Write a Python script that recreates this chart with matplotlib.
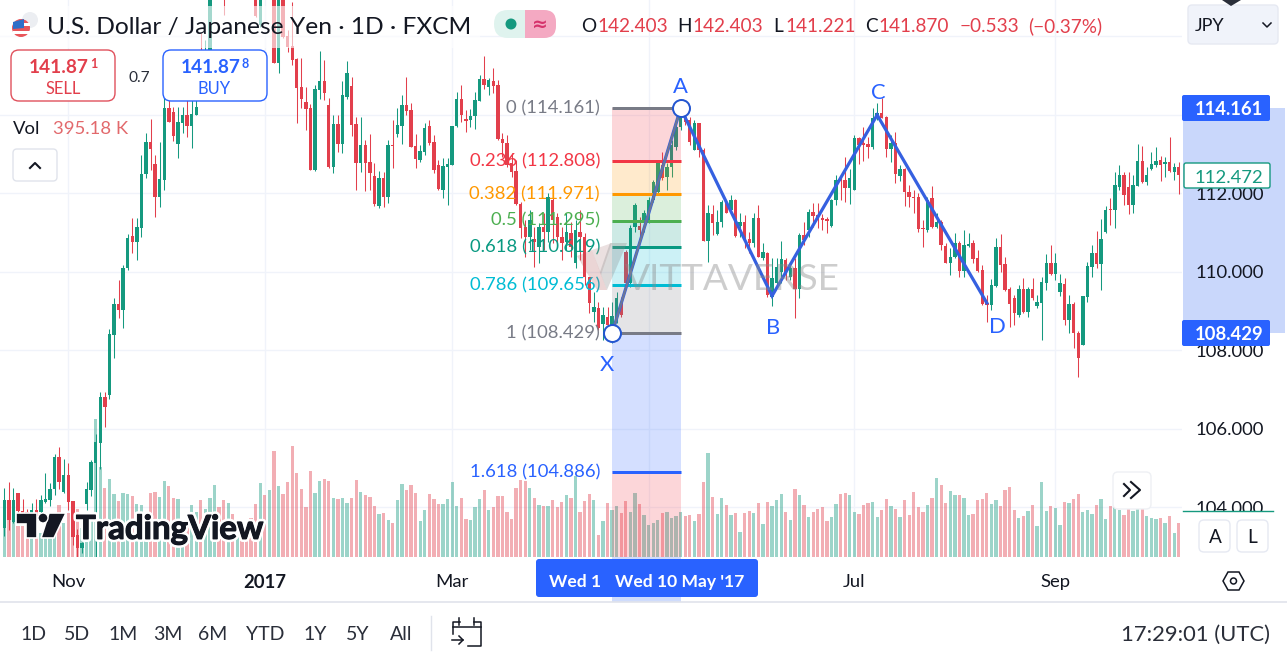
#!/usr/bin/env python3
import numpy as np
import matplotlib as mpl
mpl.use("Agg")
import matplotlib.pyplot as plt
from matplotlib.patches import FancyBboxPatch, Rectangle, Circle, Polygon
from matplotlib import patheffects

plt.rcParams['font.family'] = ['Lato', 'Noto Sans', 'DejaVu Sans']

opens = [
    103.47, 104.18, 103.62, 104.36, 103.90, 103.87, 103.72, 103.93, 103.87, 104.13,
    104.18, 104.46, 105.28, 104.38, 104.82, 104.15, 103.29, 102.96, 104.08, 104.43,
    105.12, 105.63, 106.80, 106.86, 108.38, 109.17, 109.02, 110.09, 110.91, 110.75,
    111.11, 112.49, 113.30, 112.74, 111.90, 112.33, 114.17, 114.07, 113.25, 113.79,
    113.99, 113.71, 113.99, 115.39, 114.75, 115.26, 117.30, 118.07, 117.68, 117.05,
    118.19, 117.56, 118.70, 118.19, 117.68, 117.30, 116.28, 117.56, 117.05, 117.68,
    115.31, 117.17, 116.00, 115.75, 115.42, 114.70, 114.32, 114.17, 112.59, 114.63,
    114.86, 114.24, 112.67, 113.76, 113.25, 114.45, 114.73, 113.76, 112.77, 113.23,
    112.79, 112.44, 111.67, 112.38, 111.90, 113.23, 113.51, 113.71, 114.24, 114.12,
    113.20, 112.84, 113.05, 113.71, 113.30, 112.72, 112.08, 112.67, 112.72, 113.71,
    114.40, 113.89, 113.86, 113.96, 114.35, 114.91, 114.70, 114.86, 114.75, 113.38,
    113.28, 112.77, 112.56, 111.72, 111.14, 110.88, 110.83, 110.63, 111.14, 111.01,
    111.82, 111.39, 110.88, 110.75, 110.98, 110.22, 111.01, 110.88, 109.86, 108.97,
    109.07, 108.66, 108.84, 108.43, 108.72, 109.23, 110.50, 109.71, 111.14, 111.16,
    111.24, 111.24, 111.82, 112.03, 112.72, 112.41, 112.67, 113.17, 113.68, 113.94,
    113.86, 113.10, 113.79, 113.10, 110.78, 111.47, 110.96, 111.26, 111.75, 111.57,
    111.82, 111.16, 111.26, 110.83, 110.73, 111.37, 110.35, 110.47, 109.35, 109.71,
    109.99, 110.30, 109.86, 110.09, 109.56, 110.93, 111.06, 111.52, 111.44, 111.37,
    111.34, 111.16, 111.82, 112.33, 112.33, 112.13, 112.08, 113.40, 113.28, 113.25,
    113.17, 113.91, 114.04, 113.94, 113.12, 113.28, 112.44, 112.61, 112.03, 111.90,
    111.90, 111.11, 111.06, 111.87, 111.14, 111.26, 110.65, 110.22, 110.37, 110.73,
    110.01, 110.65, 110.73, 110.35, 110.04, 109.20, 109.15, 109.63, 110.63, 110.19,
    109.56, 109.33, 108.89, 109.56, 108.97, 109.56, 109.12, 109.20, 109.71, 110.22,
    109.94, 109.48, 109.68, 108.77, 109.17, 108.43, 108.13, 109.35, 110.12, 110.47,
    110.19, 111.01, 111.59, 111.57, 112.15, 112.46, 112.15, 111.70, 112.18, 112.82,
    112.28, 112.61, 112.72, 112.84, 112.74, 112.79, 112.54, 112.66,
]
highs = [
    104.49, 104.64, 104.49, 104.36, 104.21, 103.95, 104.10, 104.21, 104.31, 104.87,
    104.61, 105.35, 105.53, 105.22, 105.12, 104.15, 103.44, 103.11, 104.64, 105.20,
    105.87, 106.93, 106.93, 108.54, 109.33, 109.79, 110.17, 110.96, 111.37, 111.37,
    112.97, 113.53, 113.89, 112.97, 113.30, 114.50, 114.37, 114.19, 114.19, 114.19,
    114.37, 114.37, 115.34, 116.08, 115.90, 117.48, 118.32, 118.45, 117.94, 118.32,
    118.58, 118.96, 119.01, 118.45, 117.94, 117.43, 117.68, 117.81, 117.94, 117.94,
    117.30, 117.30, 116.16, 116.87, 115.44, 115.44, 114.70, 114.27, 114.75, 115.62,
    115.39, 114.42, 113.99, 113.99, 114.86, 115.37, 114.96, 113.94, 113.94, 113.35,
    113.51, 112.77, 112.56, 112.54, 113.35, 113.86, 114.17, 114.50, 114.96, 114.30,
    113.51, 113.23, 113.79, 113.86, 113.48, 112.84, 112.89, 112.89, 113.71, 114.58,
    114.75, 114.12, 114.14, 114.58, 115.01, 115.49, 114.93, 115.19, 114.88, 113.53,
    113.48, 113.02, 112.84, 111.77, 111.31, 111.57, 111.14, 111.24, 111.49, 112.00,
    112.16, 111.49, 111.14, 111.49, 111.26, 111.31, 111.57, 110.98, 109.86, 109.48,
    109.23, 109.10, 109.10, 109.23, 109.48, 109.35, 110.55, 111.19, 111.75, 111.39,
    111.57, 111.90, 112.33, 112.77, 113.05, 112.77, 113.35, 113.91, 114.17, 113.99,
    113.94, 113.86, 113.79, 113.15, 111.70, 111.70, 111.57, 111.82, 111.82, 111.95,
    111.85, 111.49, 111.44, 111.01, 111.49, 111.70, 110.73, 110.50, 110.35, 110.35,
    110.78, 110.35, 110.17, 110.35, 110.98, 111.26, 111.59, 111.75, 111.75, 111.47,
    111.39, 111.85, 112.46, 112.41, 112.92, 112.61, 113.48, 113.43, 113.68, 113.43,
    114.17, 114.30, 114.42, 113.96, 113.48, 113.56, 112.72, 112.64, 112.21, 112.08,
    112.00, 111.31, 111.90, 112.18, 111.49, 111.31, 110.73, 110.60, 110.98, 110.78,
    111.06, 110.98, 110.80, 110.55, 110.17, 109.40, 109.81, 110.86, 110.96, 110.37,
    109.61, 109.40, 109.66, 109.84, 109.61, 109.84, 109.40, 109.86, 110.45, 110.68,
    110.47, 109.94, 109.84, 109.40, 109.23, 108.49, 109.38, 110.24, 110.68, 111.03,
    111.34, 111.67, 111.87, 112.54, 112.72, 112.54, 112.54, 112.46, 113.25, 113.20,
    112.66, 113.05, 113.17, 112.95, 112.92, 113.43, 112.77, 112.79,
]
lows = [
    103.26, 103.42, 103.59, 103.85, 103.62, 103.54, 103.62, 103.67, 103.85, 104.10,
    104.03, 104.31, 104.46, 104.36, 103.93, 103.03, 102.70, 102.83, 103.93, 104.28,
    102.40, 104.98, 106.04, 106.75, 107.80, 108.82, 108.56, 110.04, 110.47, 110.30,
    110.88, 112.38, 112.59, 111.39, 111.65, 112.08, 113.81, 113.33, 112.89, 113.53,
    113.43, 113.15, 113.99, 114.63, 114.63, 115.19, 117.17, 117.43, 116.54, 116.97,
    117.43, 117.48, 118.07, 117.30, 117.05, 116.49, 116.23, 116.97, 116.97, 115.31,
    115.06, 115.95, 115.59, 115.26, 113.79, 114.17, 113.61, 112.59, 112.56, 114.40,
    114.37, 112.64, 112.51, 113.05, 113.02, 114.40, 113.45, 112.08, 112.54, 112.05,
    112.08, 111.67, 111.62, 111.65, 111.75, 112.64, 113.43, 113.25, 113.99, 113.17,
    112.64, 112.79, 112.97, 113.23, 112.51, 112.08, 111.87, 111.70, 112.72, 113.68,
    113.81, 113.56, 113.68, 113.63, 114.35, 114.65, 114.50, 114.55, 113.35, 112.92,
    112.67, 112.41, 111.70, 110.86, 110.37, 110.55, 110.12, 110.22, 110.55, 110.75,
    110.73, 110.63, 110.30, 110.55, 110.37, 110.09, 110.30, 109.66, 108.94, 108.72,
    108.51, 108.26, 108.56, 108.18, 108.69, 108.84, 109.61, 109.61, 111.01, 110.86,
    111.01, 111.24, 111.77, 112.00, 112.33, 112.08, 112.41, 113.10, 113.61, 113.73,
    113.23, 113.10, 112.92, 110.78, 110.24, 110.93, 110.93, 111.14, 111.49, 111.49,
    110.88, 110.88, 110.60, 110.47, 110.63, 110.37, 110.30, 109.35, 109.12, 109.61,
    109.71, 109.79, 109.79, 108.82, 109.33, 110.68, 110.88, 111.14, 111.11, 111.06,
    110.98, 111.14, 111.70, 111.82, 111.77, 111.72, 112.08, 112.74, 112.82, 112.89,
    113.12, 113.86, 113.91, 112.92, 112.79, 112.26, 112.31, 111.67, 111.65, 111.49,
    111.01, 110.63, 111.01, 111.11, 111.11, 110.55, 110.22, 109.91, 110.35, 109.86,
    109.86, 110.63, 110.22, 109.99, 109.15, 108.72, 109.02, 109.61, 109.99, 109.51,
    108.59, 108.64, 108.84, 108.94, 108.84, 109.28, 109.07, 108.26, 109.53, 109.91,
    109.79, 109.38, 108.64, 108.43, 108.05, 107.31, 108.13, 109.23, 109.86, 110.09,
    109.53, 110.98, 111.19, 111.11, 112.08, 111.70, 111.47, 111.49, 112.18, 112.26,
    112.21, 112.59, 112.66, 112.31, 112.41, 112.54, 112.33, 111.98,
]
closes = [
    104.18, 103.67, 104.18, 103.90, 103.67, 103.72, 103.93, 103.77, 104.18, 104.21,
    104.46, 105.28, 104.64, 104.82, 104.13, 103.24, 102.96, 103.08, 104.46, 105.15,
    105.66, 106.80, 106.55, 108.41, 109.17, 109.02, 110.09, 110.86, 110.75, 111.14,
    112.49, 113.30, 113.12, 111.90, 112.36, 114.17, 113.81, 113.45, 113.81, 113.99,
    113.71, 114.02, 114.19, 114.75, 115.65, 117.30, 118.07, 117.56, 117.05, 118.07,
    117.56, 118.70, 118.19, 117.68, 117.30, 116.51, 117.56, 117.05, 117.68, 115.31,
    117.17, 115.98, 115.72, 115.39, 114.68, 114.40, 114.14, 112.59, 114.65, 114.86,
    114.55, 112.67, 113.76, 113.25, 114.50, 115.06, 113.73, 112.77, 113.23, 112.77,
    112.51, 111.72, 112.38, 111.90, 113.23, 113.20, 113.73, 114.24, 114.09, 113.17,
    112.87, 113.07, 113.66, 113.28, 112.59, 112.10, 112.69, 112.74, 113.71, 114.40,
    113.99, 113.84, 113.96, 114.37, 114.91, 114.75, 114.88, 114.73, 113.38, 113.28,
    112.72, 112.54, 111.72, 111.11, 110.88, 111.31, 110.75, 111.14, 111.01, 111.90,
    111.31, 110.88, 110.73, 111.01, 110.63, 111.06, 110.88, 109.86, 109.20, 109.10,
    108.56, 108.89, 108.64, 108.87, 109.33, 108.89, 109.71, 111.11, 111.70, 111.06,
    111.49, 111.82, 112.28, 112.77, 112.38, 112.67, 113.23, 113.68, 113.99, 113.81,
    113.30, 113.79, 113.10, 110.78, 111.49, 111.24, 111.26, 111.77, 111.49, 111.82,
    110.91, 111.26, 110.80, 110.73, 111.37, 110.37, 110.50, 109.40, 109.84, 110.12,
    110.32, 109.91, 110.09, 109.56, 110.93, 110.80, 111.52, 111.42, 111.37, 111.31,
    111.29, 111.82, 112.33, 112.31, 112.13, 112.38, 113.40, 113.23, 113.23, 113.17,
    113.91, 114.04, 113.91, 113.12, 113.28, 112.49, 112.61, 112.03, 111.90, 111.87,
    111.09, 111.09, 111.82, 111.14, 111.26, 110.68, 110.22, 110.37, 110.73, 110.01,
    110.68, 110.70, 110.32, 110.01, 109.17, 109.15, 109.66, 110.63, 110.17, 109.53,
    109.17, 108.94, 109.56, 108.97, 109.56, 109.33, 109.23, 109.73, 110.22, 109.94,
    110.22, 109.71, 108.77, 109.17, 108.43, 107.80, 109.38, 110.14, 110.47, 110.19,
    110.83, 111.57, 111.57, 112.21, 112.46, 111.95, 111.70, 112.21, 112.82, 112.28,
    112.46, 112.74, 112.82, 112.72, 112.79, 112.56, 112.66, 112.47,
]
# volume in thousands
volumes = [
    387, 463, 425, 356, 356, 329, 425, 234, 272, 349,
    368, 444, 597, 387, 502, 406, 548, 329, 425, 502,
    1586, 1030, 789, 896, 724, 643, 735, 724, 701, 609,
    597, 502, 735, 747, 689, 873, 816, 678, 666, 425,
    406, 597, 521, 655, 548, 678, 827, 575, 655, 620,
    494, 425, 406, 387, 444, 609, 850, 712, 770, 1218,
    816, 724, 862, 1275, 965, 781, 575, 988, 735, 873,
    896, 873, 678, 666, 678, 620, 678, 885, 747, 712,
    689, 586, 494, 506, 425, 391, 655, 839, 770, 827,
    735, 414, 540, 724, 666, 609, 609, 666, 862, 586,
    678, 437, 425, 575, 666, 770, 540, 575, 701, 701,
    517, 437, 793, 885, 873, 793, 678, 597, 586, 586,
    655, 575, 632, 712, 678, 931, 517, 643, 724, 655,
    253, 414, 620, 540, 586, 506, 643, 517, 735, 609,
    483, 368, 391, 425, 506, 517, 448, 471, 517, 471,
    483, 414, 494, 862, 1195, 689, 494, 678, 597, 483,
    506, 287, 506, 529, 506, 620, 379, 632, 586, 655,
    724, 517, 425, 781, 712, 597, 460, 517, 552, 575,
    414, 460, 609, 724, 735, 712, 517, 494, 597, 620,
    632, 460, 540, 666, 586, 552, 460, 655, 483, 747,
    575, 517, 597, 678, 908, 827, 620, 758, 712, 712,
    678, 483, 494, 655, 666, 735, 609, 655, 586, 770,
    804, 540, 448, 471, 529, 597, 356, 862, 529, 586,
    563, 368, 632, 620, 666, 724, 517, 540, 494, 597,
    666, 437, 586, 578, 540, 483, 559, 529, 559, 559,
    471, 448, 437, 448, 391, 471, 276, 395.18,
]

month_bars = [14, 57, 98, 141, 186, 230]
# May sits under the crosshair date label
month_labels = ['Nov', '2017', 'Mar', '', 'Jul', 'Sep']
price_ticks = [104, 106, 108, 110, 112, 114, 116]
# 114 and 116 sit under the range label and the currency button
price_labels = ['104.000', '106.000', '108.000', '110.000', '112.000', '', '']

# fib retracement, X to A
fib_start, fib_end = 133, 148
fib_ratios = ['0', '0.236', '0.382', '0.5', '0.618', '0.786', '1', '1.618']
fib_prices = [114.161, 112.808, 111.971, 111.295, 110.619, 109.656, 108.429, 104.886]
fib_next_price = 99.15  # 2.618 level, off the chart
fib_colors = ['#787b86', '#f23645', '#ff9800', '#4caf50', '#089981', '#00bcd4', '#787b86', '#2962ff']
zone_colors = ['#f23645', '#ff9800', '#4caf50', '#089981', '#00bcd4', '#787b86', '#2962ff', '#f23645']

pattern_names = ['X', 'A', 'B', 'C', 'D']
pattern_bars = [133, 148, 168, 191, 215]
pattern_prices = [108.429, 114.161, 109.38, 113.99, 109.20]

range_labels = ['Wed 1', "Wed 10 May '17"]
time_buttons = ['1D', '5D', '1M', '3M', '6M', 'YTD', '1Y', '5Y', 'All']
time_button_x = [33, 77, 123, 168, 213, 265, 315, 358, 401]

INK = '#131722'
RED = '#e23f4c'
TEAL = '#15997f'
BLUE = '#2962ff'
W, H = 1287, 663
CHART_W, CHART_H = 1182, 557


def px(size):
    return size * 0.72


fig = plt.figure(figsize=(W / 100, H / 100), dpi=100)

# light band behind the price scale sits under everything
back = fig.add_axes([0, 0, 1, 1], zorder=0)
back.set_xlim(0, W)
back.set_ylim(H, 0)
back.axis('off')

pos = [0, (H - CHART_H) / H, CHART_W / W, CHART_H / H]
vol_ax = fig.add_axes(pos, zorder=1)
ax = fig.add_axes(pos, zorder=2)
ax.patch.set_alpha(0)

bar_px = 4.57
xlim = (-4.3 / bar_px, (CHART_W - 4.3) / bar_px)
ylim = (102.727, 116.92)
ax.set_xlim(xlim)
ax.set_ylim(ylim)
vol_ax.set_xlim(xlim)
vol_ax.set_ylim(0, 6405)

o, h, l, c = map(np.array, (opens, highs, lows, closes))
x = np.arange(len(o))
up = c >= o
colors = np.where(up, TEAL, RED)

vol_ax.bar(x, volumes, width=0.72, color=colors, alpha=0.42, linewidth=0)
ax.vlines(x, l, h, colors=colors, linewidth=0.75, zorder=2)
ax.bar(x, np.maximum(np.abs(c - o), 0.03), bottom=np.minimum(o, c), width=0.74,
       color=colors, linewidth=0, zorder=2)

# axes look
for a in (ax, vol_ax):
    for s in a.spines.values():
        s.set_visible(False)
ax.set_xticks(month_bars, month_labels)
ax.set_yticks(price_ticks, price_labels)
ax.yaxis.tick_right()
ax.tick_params(axis='x', length=0, pad=px(17), labelsize=px(18.5), labelcolor=INK)
ax.tick_params(axis='y', length=0, pad=px(14), labelsize=px(18.5), labelcolor=INK)
ax.get_xticklabels()[1].set_fontweight('bold')
vol_ax.set_axisbelow(True)
vol_ax.set_xticks(month_bars)
vol_ax.set_yticks([])
vol_ax.tick_params(length=0, labelbottom=False, labelleft=False)
vol_ax.grid(axis='x', color='#f0f3fa', linewidth=1)
for p in price_ticks:
    vol_ax.axhline((p - ylim[0]) / (ylim[1] - ylim[0]) * 6405, color='#f0f3fa', linewidth=1, zorder=0)

# fib zones and levels
edges = fib_prices + [fib_next_price]
for i, col in enumerate(zone_colors):
    ax.fill_between([fib_start, fib_end], edges[i + 1], edges[i], color=col, alpha=0.2,
                    linewidth=0, zorder=3)
ax.hlines(fib_prices, fib_start, fib_end, colors=fib_colors, linewidth=px(3), zorder=4)
for ratio, price, col in zip(fib_ratios, fib_prices, fib_colors):
    ax.annotate('%s (%.3f)' % (ratio, price), (fib_start, price), xytext=(-px(12), 0),
                textcoords='offset points', ha='right', va='center', color=col,
                fontsize=px(18.5), zorder=5)

# XABCD pattern
ax.plot(pattern_bars, pattern_prices, color='#3560e0', linewidth=px(3.2), zorder=5,
        solid_joinstyle='miter')
ax.plot(pattern_bars[:2], pattern_prices[:2], color='#787b86', linewidth=px(2), alpha=0.85, zorder=5)
ax.plot(pattern_bars[:2], pattern_prices[:2], 'o', ms=px(17), mfc='white', mec='#2456d0',
        mew=px(2), zorder=6, clip_on=False)
offsets = {'X': (-5, -32), 'A': (0, 21), 'B': (1, -32), 'C': (1, 22), 'D': (11, -24)}
for name, bar, price in zip(pattern_names, pattern_bars, pattern_prices):
    dx, dy = offsets[name]
    ax.annotate(name, (bar, price), xytext=(px(dx), px(dy)), textcoords='offset points',
                ha='center', va='center', color=BLUE, fontsize=px(22), zorder=6)

# everything around the chart, in screen pixels
ui = fig.add_axes([0, 0, 1, 1], zorder=5)
ui.set_xlim(0, W)
ui.set_ylim(H, 0)
ui.axis('off')
ui.patch.set_alpha(0)


def text(s, x0, y0, size, color=INK, ha='left', **kw):
    # y0 is the middle of the capitals, so brackets don't push the line around
    return ui.text(x0, y0 + 0.36 * size, s, fontsize=px(size), color=color, ha=ha, va='baseline', **kw)


def box(x0, y0, w, h, fc='white', ec='none', r=6, lw=1.0, alpha=None, target=None):
    b = FancyBboxPatch((x0 + r, y0 + r), w - 2 * r, h - 2 * r, boxstyle='round,pad=%f,rounding_size=%f' % (r, r),
                       fc=fc, ec=ec, lw=lw, alpha=alpha, mutation_aspect=1)
    (target or ui).add_patch(b)
    return b


# selected range on both scales
back.add_patch(Rectangle((1183, 108), 102, 225, fc='#c9d7fb', ec='none'))
ui.add_patch(Rectangle((612, 557), 69, 45, fc='#cfdcfc', ec='none'))
ui.plot([0, W], [602, 602], color='#e0e3eb', lw=1.2)

# header
ui.add_patch(Rectangle((0, 6), 480, 42, fc='white', ec='none', alpha=0.62))
ui.add_patch(Circle((30, 20), 8, fc='#eceef2', ec='none'))
ui.add_patch(Circle((21, 28), 9, fc='#e8555a', ec='none'))
ui.add_patch(Rectangle((13, 23), 17, 3, fc='white', ec='none'))
ui.add_patch(Rectangle((13, 31), 17, 3, fc='white', ec='none'))
ui.add_patch(Polygon([(13, 22), (24, 19), (24, 28), (13, 29)], fc='#2f6fc8', ec='none'))
text('U.S. Dollar / Japanese Yen · 1D · FXCM', 47, 25, 24.5)

box(494, 10, 62, 28, fc='#dff3ee', r=14)
box(525, 10, 31, 28, fc='#f4a9c2', r=12)
ui.add_patch(Rectangle((525, 10), 14, 28, fc='#f4a9c2', ec='none'))
ui.add_patch(Circle((511, 24), 5.5, fc=TEAL, ec='none'))
text('≈', 540, 23, 19, color='#d6336c', ha='center', family='DejaVu Sans', fontweight='bold')

for s, xx, col in [('O', 581, INK), ('142.403', 597, RED), ('H', 677, INK), ('142.403', 692, RED),
                   ('L', 773, INK), ('141.221', 785, RED), ('C', 865, INK), ('141.870', 878, RED),
                   ('−0.533', 960, RED), ('(−0.37%)', 1028, RED)]:
    text(s, xx, 25, 19, color=col)

box(1188, 5, 90, 39, fc='#f0f3fa', ec='#e6e9f2', r=4)
text('JPY', 1195, 25, 18)
ui.add_patch(Polygon([(1222, 0), (1241, 0), (1231, 6)], fc='#2a2e39', ec='none'))
ui.plot([1263, 1267, 1271], [23, 27, 23], color=INK, lw=1.1)

# sell and buy tickets
box(11, 50, 104, 51, ec='#e0505c', r=8, lw=1.0)
text('141.87', 29, 66, 19, color=RED, fontweight='bold')
text('1', 90, 63, 12.5, color=RED, fontweight='bold')
text('SELL', 63, 88, 16.5, color=RED, ha='center')
text('0.7', 139, 76, 15.5, color='#2a2e39', ha='center')
box(163, 50, 104, 51, ec=BLUE, r=8, lw=1.0)
text('141.87', 181, 66, 19, color=BLUE, fontweight='bold')
text('8', 242, 63, 12.5, color=BLUE, fontweight='bold')
text('BUY', 214, 88, 16.5, color=BLUE, ha='center')
text('Vol', 13, 127, 18.5)
text('395.18 K', 53, 127, 18.5, color='#e2696c')
box(13, 149, 44, 32, ec='#e0e3eb', r=4)
ui.plot([30, 35, 40], [168, 163, 168], color=INK, lw=1.5)

# watermark
wm = '#8a8a8a'
ui.add_patch(Polygon([(577, 256), (592, 250), (607, 290), (597, 290)], fc='#b05a5a', ec='none', alpha=0.25))
ui.add_patch(Polygon([(592, 250), (612, 243), (601, 275)], fc='#b89090', ec='none', alpha=0.28))
ui.add_patch(Polygon([(610, 243), (627, 243), (607, 290), (600, 272)], fc=wm, ec='none', alpha=0.3))
text('VITTAVERSE', 625, 277, 37, color=wm, alpha=0.42)

# crosshair date labels
box(536, 559, 222, 38, fc=BLUE, r=3)
text(range_labels[0], 575, 581, 17.5, color='white', ha='center', fontweight='bold')
text(range_labels[1], 680, 581, 17.5, color='white', ha='center', fontweight='bold')

# price labels
box(1182, 95, 88, 26, fc=BLUE, r=2)
text('114.161', 1229, 108, 18.5, color='white', ha='center', fontweight='bold')
box(1182, 320, 88, 26, fc=BLUE, r=2)
text('108.429', 1229, 333, 18.5, color='white', ha='center', fontweight='bold')
box(1184, 163, 86, 25, fc='white', ec=TEAL, r=2)
text('112.472', 1229, 176, 18.5, color=TEAL, ha='center')

# bottom right of the price scale
ui.add_patch(Rectangle((1183, 511), 100, 46, fc='white', ec='none'))
ui.plot([1183, 1273], [510.5, 510.5], color=TEAL, lw=1.0)
box(1199, 520, 31, 32, ec='#e6e9f2', r=5)
text('A', 1215, 536, 19, ha='center')
box(1237, 520, 31, 32, ec='#e6e9f2', r=5)
text('L', 1252, 536, 19, ha='center')
box(1113, 472, 38, 37, ec='#eef0f4', r=5)
ui.plot([1124, 1130, 1124], [484, 490, 496], color=INK, lw=1.5)
ui.plot([1131, 1140, 1131], [482, 490, 498], color=INK, lw=1.5)
ui.add_patch(Polygon([(1223, 581), (1228, 572), (1239, 572), (1244, 581), (1239, 590), (1228, 590)],
                     fc='none', ec=INK, lw=1.1))
ui.add_patch(Circle((1233.5, 581), 3, fc='none', ec=INK, lw=1.1))

# TradingView mark
logo_fx = [patheffects.withStroke(linewidth=4.5, foreground='white'),
           patheffects.withStroke(linewidth=0.8, foreground=INK)]
for pts in ([(16, 513), (37, 513), (37, 538), (26, 538), (26, 524), (16, 524)],
            [(49, 513), (66, 513), (54, 538), (41, 538)]):
    ui.add_patch(Polygon(pts, fc=INK, ec='white', lw=1.2))
ui.add_patch(Circle((43, 518), 5, fc=INK, ec='white', lw=1.0))
text('TradingView', 76, 527, 33, fontweight='bold', path_effects=logo_fx)

# toolbar
for s, xx in zip(time_buttons, time_button_x):
    text(s, xx, 633, 19.5, ha='center', color='#2a2e39')
ui.plot([431, 431], [616, 650], color='#e0e3eb', lw=1)
ui.plot([460, 453, 453], [622, 622, 634], color=INK, lw=1.1)
ui.plot([474, 481, 481, 468], [622, 622, 646, 646], color=INK, lw=1.1)
ui.plot([453, 481], [627, 627], color=INK, lw=1.1)
ui.plot([459, 459], [618, 625], color=INK, lw=1.1)
ui.plot([474, 474], [618, 625], color=INK, lw=1.1)
ui.plot([452, 463], [640, 640], color=INK, lw=1.1)
ui.plot([459, 463, 459], [636, 640, 644], color=INK, lw=1.1)
text('17:29:01 (UTC)', 1270, 633, 22, ha='right', color='#2a2e39')

fig.savefig('out.png', dpi=100)
